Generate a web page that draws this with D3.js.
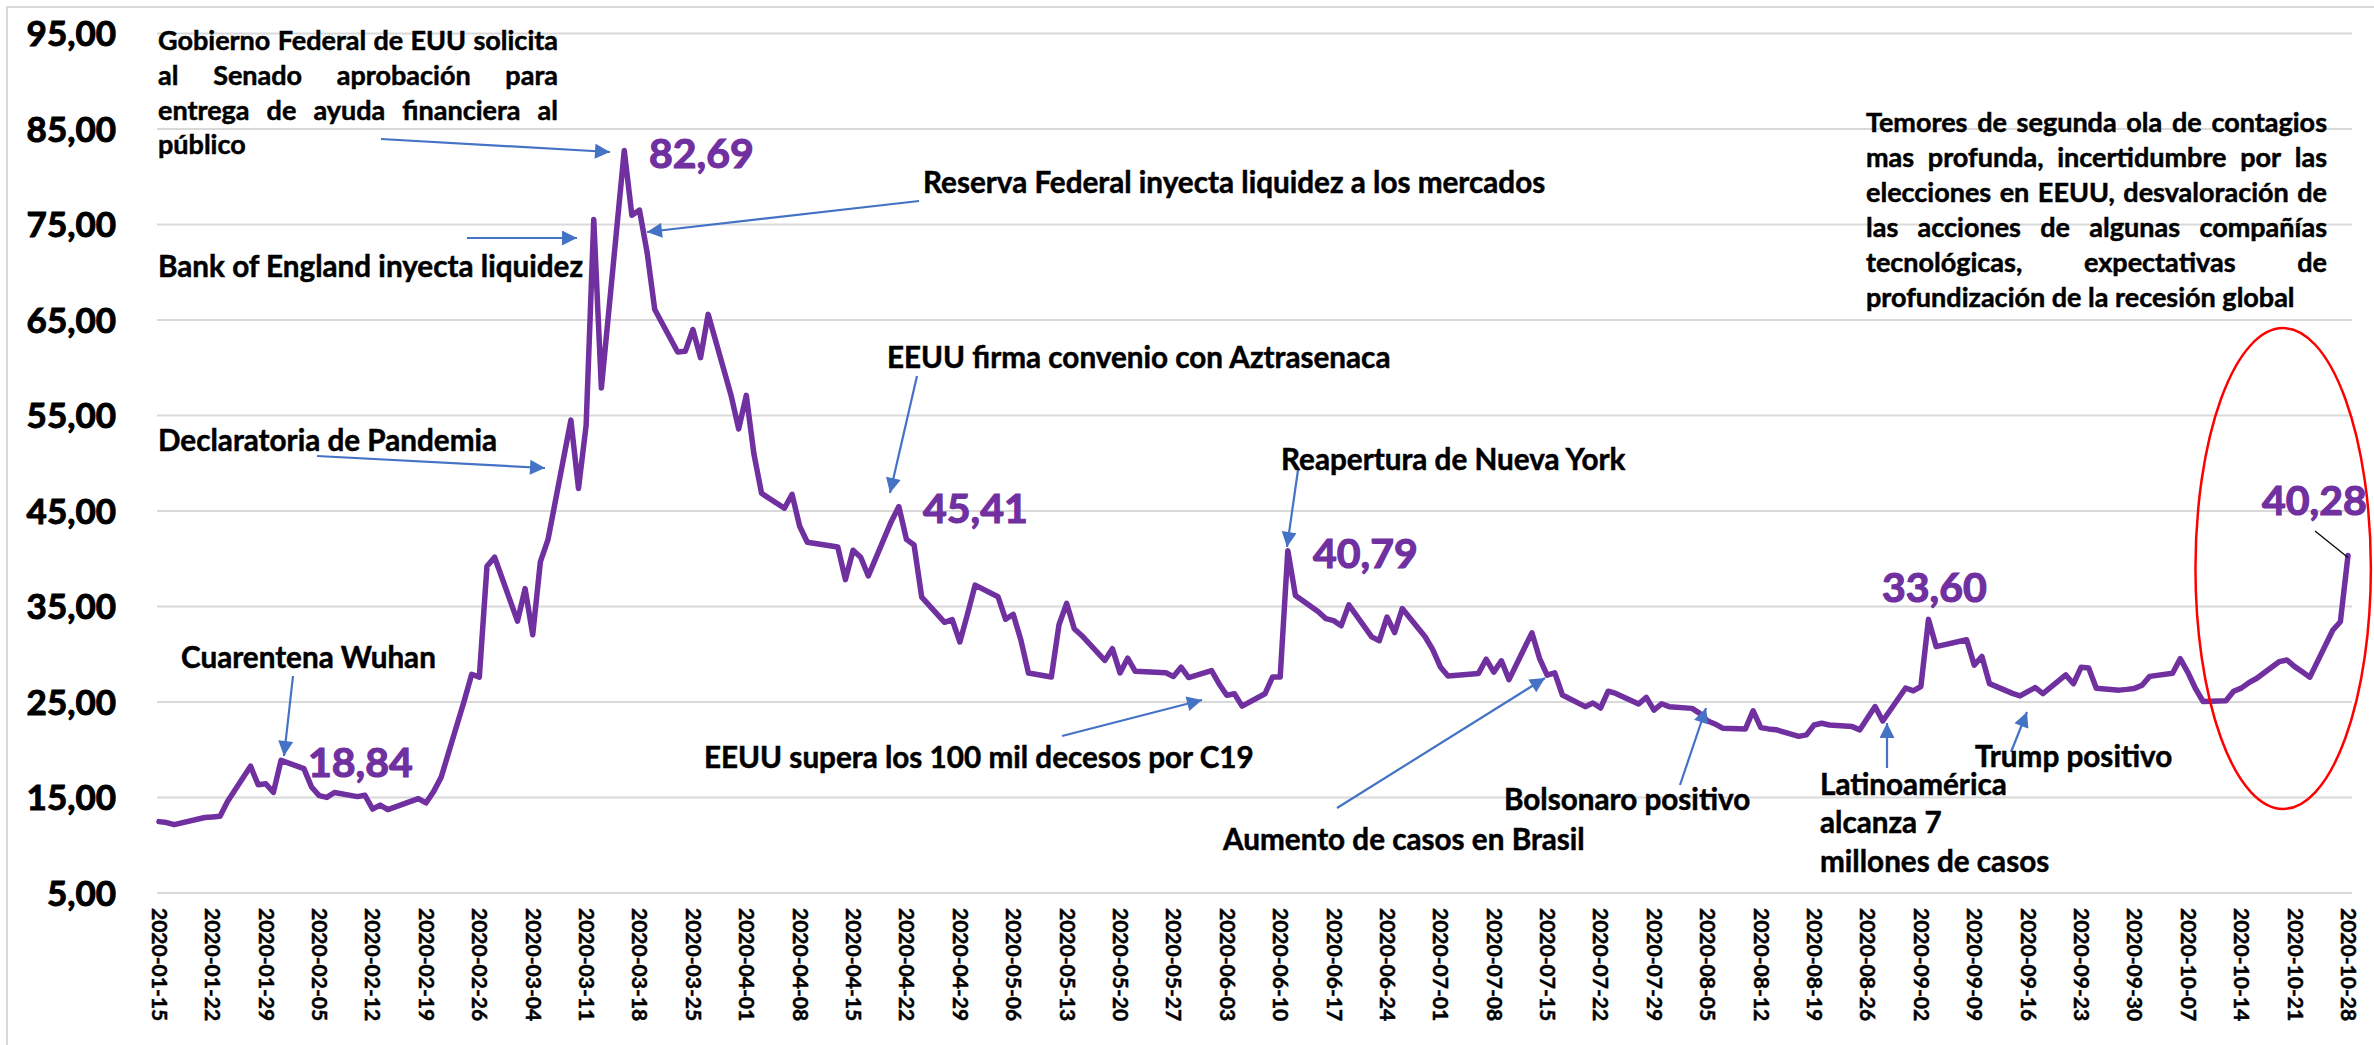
<!DOCTYPE html>
<html>
<head>
<meta charset="utf-8">
<script src="https://cdn.jsdelivr.net/npm/d3@7"></script>
<style>
  body { margin: 0; background: #fff; }
  svg { display: block; font-family: Lato, "Open Sans", sans-serif; font-weight: 700; }
</style>
</head>
<body>
<svg id="chart" width="2374" height="1045"></svg>
<script>
// Índice de volatilidad (cierres diarios) 2020-01-15 .. 2020-10-28
const dates = [
  "2020-01-15","2020-01-16","2020-01-17","2020-01-21","2020-01-22","2020-01-23","2020-01-24","2020-01-27","2020-01-28","2020-01-29","2020-01-30","2020-01-31",
  "2020-02-03","2020-02-04","2020-02-05","2020-02-06","2020-02-07","2020-02-10","2020-02-11","2020-02-12","2020-02-13","2020-02-14","2020-02-18","2020-02-19","2020-02-20","2020-02-21","2020-02-24","2020-02-25","2020-02-26","2020-02-27","2020-02-28",
  "2020-03-02","2020-03-03","2020-03-04","2020-03-05","2020-03-06","2020-03-09","2020-03-10","2020-03-11","2020-03-12","2020-03-13","2020-03-16","2020-03-17","2020-03-18","2020-03-19","2020-03-20","2020-03-23","2020-03-24","2020-03-25","2020-03-26","2020-03-27","2020-03-30","2020-03-31",
  "2020-04-01","2020-04-02","2020-04-03","2020-04-06","2020-04-07","2020-04-08","2020-04-09","2020-04-13","2020-04-14","2020-04-15","2020-04-16","2020-04-17","2020-04-20","2020-04-21","2020-04-22","2020-04-23","2020-04-24","2020-04-27","2020-04-28","2020-04-29","2020-04-30",
  "2020-05-01","2020-05-04","2020-05-05","2020-05-06","2020-05-07","2020-05-08","2020-05-11","2020-05-12","2020-05-13","2020-05-14","2020-05-15","2020-05-18","2020-05-19","2020-05-20","2020-05-21","2020-05-22","2020-05-26","2020-05-27","2020-05-28","2020-05-29",
  "2020-06-01","2020-06-02","2020-06-03","2020-06-04","2020-06-05","2020-06-08","2020-06-09","2020-06-10","2020-06-11","2020-06-12","2020-06-15","2020-06-16","2020-06-17","2020-06-18","2020-06-19","2020-06-22","2020-06-23","2020-06-24","2020-06-25","2020-06-26","2020-06-29","2020-06-30",
  "2020-07-01","2020-07-02","2020-07-06","2020-07-07","2020-07-08","2020-07-09","2020-07-10","2020-07-13","2020-07-14","2020-07-15","2020-07-16","2020-07-17","2020-07-20","2020-07-21","2020-07-22","2020-07-23","2020-07-24","2020-07-27","2020-07-28","2020-07-29","2020-07-30","2020-07-31",
  "2020-08-03","2020-08-04","2020-08-05","2020-08-06","2020-08-07","2020-08-10","2020-08-11","2020-08-12","2020-08-13","2020-08-14","2020-08-17","2020-08-18","2020-08-19","2020-08-20","2020-08-21","2020-08-24","2020-08-25","2020-08-26","2020-08-27","2020-08-28","2020-08-31",
  "2020-09-01","2020-09-02","2020-09-03","2020-09-04","2020-09-08","2020-09-09","2020-09-10","2020-09-11","2020-09-14","2020-09-15","2020-09-16","2020-09-17","2020-09-18","2020-09-21","2020-09-22","2020-09-23","2020-09-24","2020-09-25","2020-09-28","2020-09-29","2020-09-30",
  "2020-10-01","2020-10-02","2020-10-05","2020-10-06","2020-10-07","2020-10-08","2020-10-09","2020-10-12","2020-10-13","2020-10-14","2020-10-15","2020-10-16","2020-10-19","2020-10-20","2020-10-21","2020-10-22","2020-10-23","2020-10-26","2020-10-27","2020-10-28"
];
const values = [
  12.42,12.32,12.10,12.85,12.91,12.98,14.56,18.23,16.28,16.39,15.49,18.84,
  17.97,16.05,15.15,14.96,15.47,15.04,15.18,13.74,14.15,13.68,14.83,14.38,15.56,17.08,25.03,27.85,27.56,39.16,40.11,
  33.42,36.82,31.99,39.62,41.94,54.46,47.30,53.90,75.47,57.83,82.69,75.91,76.45,72.00,66.04,61.59,61.67,63.95,61.00,65.54,57.08,53.54,
  57.06,50.91,46.80,45.24,46.70,43.35,41.67,41.17,37.76,40.84,40.11,38.15,43.83,45.41,41.98,41.38,35.93,33.29,33.57,31.23,34.15,
  37.19,35.97,33.61,34.12,31.44,27.98,27.57,33.04,35.28,32.61,31.89,29.30,30.53,27.99,29.53,28.16,28.01,27.62,28.59,27.51,
  28.23,26.84,25.66,25.81,24.52,25.81,27.57,27.57,40.79,36.09,34.40,33.67,33.47,32.94,35.12,31.77,31.37,33.84,32.22,34.73,31.78,30.43,
  28.62,27.68,27.94,29.43,28.08,29.26,27.29,32.19,29.52,27.76,28.00,25.68,24.46,24.84,24.32,26.08,25.84,24.74,25.44,24.10,24.76,24.46,
  24.28,23.76,22.99,22.65,22.21,22.13,24.03,22.28,22.13,22.05,21.35,21.51,22.54,22.72,22.54,22.37,22.03,23.27,24.47,22.96,26.41,
  26.12,26.57,33.60,30.75,31.46,28.81,29.71,26.87,25.85,25.59,26.04,26.46,25.83,27.78,26.86,28.58,28.51,26.38,26.19,26.27,26.37,
  26.70,27.63,27.96,29.48,28.06,26.36,25.00,25.07,26.07,26.40,26.97,27.41,29.18,29.35,28.65,28.11,27.55,32.46,33.35,40.28
];
const yTicks = [5, 15, 25, 35, 45, 55, 65, 75, 85, 95];
const xTickLabels = [
  "2020-01-15","2020-01-22","2020-01-29","2020-02-05","2020-02-12","2020-02-19","2020-02-26","2020-03-04","2020-03-11","2020-03-18","2020-03-25",
  "2020-04-01","2020-04-08","2020-04-15","2020-04-22","2020-04-29","2020-05-06","2020-05-13","2020-05-20","2020-05-27","2020-06-03","2020-06-10",
  "2020-06-17","2020-06-24","2020-07-01","2020-07-08","2020-07-15","2020-07-22","2020-07-29","2020-08-05","2020-08-12","2020-08-19","2020-08-26",
  "2020-09-02","2020-09-09","2020-09-16","2020-09-23","2020-09-30","2020-10-07","2020-10-14","2020-10-21","2020-10-28"
];
// valores destacados
const peakDates = ["2020-01-31","2020-03-16","2020-04-21","2020-06-11","2020-09-03","2020-10-28"];

const parse = d3.timeParse("%Y-%m-%d");
const fmtNum = v => v.toFixed(2).replace(".", ",");
const data = dates.map((d, i) => ({ date: parse(d), value: values[i] }));

const purple = "#7030A0";
const blue = "#4472C4";
const grid = "#d9d9d9";

const svg = d3.select("#chart");

const x = d3.scaleTime()
  .domain([parse(dates[0]), parse(dates[dates.length - 1])])
  .range([159, 2348]);
const y = d3.scaleLinear().domain([5, 95]).range([892.5, 33]);

// marco del gráfico
svg.append("path")
  .attr("d", "M7,1045 V7 H2374")
  .attr("fill", "none").attr("stroke", grid).attr("stroke-width", 2);

// líneas de cuadrícula
svg.append("g")
  .attr("transform", "translate(157,0)")
  .call(d3.axisRight(y).tickValues(yTicks).tickSize(2195).tickFormat(""))
  .call(g => g.select(".domain").remove())
  .call(g => g.selectAll("line").attr("stroke", grid).attr("stroke-width", 2));

// eje Y
svg.append("g")
  .attr("transform", "translate(116,0)")
  .call(d3.axisLeft(y).tickValues(yTicks).tickSize(0).tickPadding(0).tickFormat(fmtNum))
  .call(g => g.select(".domain").remove())
  .call(g => g.selectAll("text")
    .attr("font-family", "Lato, sans-serif").attr("font-weight", 700)
    .attr("font-size", 35).attr("fill", "#000")
    .attr("stroke", "#000").attr("stroke-width", 1)
    .attr("dy", "0.36em"));

// eje X (fechas verticales)
svg.append("g")
  .attr("transform", "translate(0,908)")
  .call(d3.axisBottom(x).tickValues(xTickLabels.map(parse)).tickSize(0).tickFormat(d3.timeFormat("%Y-%m-%d")))
  .call(g => g.select(".domain").remove())
  .call(g => g.selectAll("text")
    .attr("font-family", "Lato, sans-serif").attr("font-weight", 700)
    .attr("font-size", 21).attr("fill", "#000")
    .attr("stroke", "#000").attr("stroke-width", 0.5)
    .attr("transform", "rotate(90)")
    .attr("x", 0).attr("y", 0).attr("dy", "0.36em")
    .attr("text-anchor", "start"));

// serie
svg.append("path")
  .datum(data)
  .attr("fill", "none")
  .attr("stroke", purple)
  .attr("stroke-width", 5.5)
  .attr("stroke-linejoin", "round")
  .attr("stroke-linecap", "round")
  .attr("d", d3.line().x(d => x(d.date)).y(d => y(d.value)));

// flechas
svg.append("defs").append("marker")
  .attr("id", "head")
  .attr("viewBox", "0 0 10 10")
  .attr("refX", 10).attr("refY", 5)
  .attr("markerUnits", "userSpaceOnUse")
  .attr("markerWidth", 16).attr("markerHeight", 15)
  .attr("orient", "auto")
  .append("path").attr("d", "M0,0 L10,5 L0,10 Z").attr("fill", blue);

const arrows = [
  [381, 139, 610, 152],
  [467, 238, 577, 238],
  [317, 456, 545, 468],
  [919, 201, 647, 232],
  [917, 376, 890, 493],
  [1298, 470, 1287, 547],
  [293, 676, 284, 756],
  [1062, 736, 1202, 700],
  [1337, 808, 1545, 678],
  [1680, 785, 1706, 708],
  [1887, 768, 1887, 723],
  [2011, 752, 2027, 712]
];
svg.append("g").selectAll("line")
  .data(arrows)
  .join("line")
  .attr("x1", d => d[0]).attr("y1", d => d[1])
  .attr("x2", d => d[2]).attr("y2", d => d[3])
  .attr("stroke", blue).attr("stroke-width", 2.2)
  .attr("marker-end", "url(#head)");

// párrafo justificado
function justified(lines, x0, y0, width, lh, size) {
  const g = svg.append("g").attr("font-size", size)
    .attr("stroke", "#000").attr("stroke-width", 0.5);
  const probe = g.append("text").attr("x", -9999).attr("y", -9999);
  const widest = d3.max(lines.slice(0, -1), l => probe.text(l).node().getComputedTextLength());
  const fs = widest > width ? size * width / widest : size;
  g.attr("font-size", fs);
  probe.remove();
  lines.forEach((line, i) => {
    const by = y0 + i * lh;
    const words = line.split(" ");
    if (i === lines.length - 1 || words.length < 2) {
      g.append("text").attr("x", x0).attr("y", by).text(line);
      return;
    }
    const nodes = words.map(wd => g.append("text").attr("y", by).text(wd));
    const ws = nodes.map(n => n.node().getComputedTextLength());
    const gap = (width - d3.sum(ws)) / (words.length - 1);
    let cx = x0;
    nodes.forEach((n, k) => { n.attr("x", cx); cx += ws[k] + gap; });
  });
}

justified([
  "Gobierno Federal de EUU solicita",
  "al Senado aprobación para",
  "entrega de ayuda financiera al",
  "público"
], 158, 50, 400, 34.8, 27);

justified([
  "Temores de segunda ola de contagios",
  "mas profunda, incertidumbre por las",
  "elecciones en EEUU, desvaloración de",
  "las acciones de algunas compañías",
  "tecnológicas, expectativas de",
  "profundización de la recesión global"
], 1866, 132, 461, 35, 27);

// etiquetas sueltas: un tamaño común tomado de los anchos del original
const labels = [
  ["Bank of England inyecta liquidez", 158, 277, 427],
  ["Declaratoria de Pandemia", 158, 451, 340],
  ["Reserva Federal inyecta liquidez a los mercados", 923, 193, 629],
  ["EEUU firma convenio con Aztrasenaca", 887, 368, 501],
  ["Reapertura de Nueva York", 1281, 470, null],
  ["Cuarentena Wuhan", 181, 668, 254],
  ["EEUU supera los 100 mil decesos por C19", 704, 768, 543],
  ["Aumento de casos en Brasil", 1223, 850, 362],
  ["Bolsonaro positivo", 1504, 810, 245],
  ["Latinoamérica", 1820, 795, null],
  ["alcanza 7", 1820, 833, null],
  ["millones de casos", 1820, 872, null],
  ["Trump positivo", 1975, 767, 200]
];
const lg = svg.append("g").attr("font-size", 27)
  .attr("stroke", "#000").attr("stroke-width", 0.5);
const nodes = labels.map(l => lg.append("text").attr("x", l[1]).attr("y", l[2]).text(l[0]));
const ratios = labels.map((l, i) => l[3] ? l[3] / nodes[i].node().getComputedTextLength() : null).filter(r => r);
lg.attr("font-size", 27 * d3.median(ratios));

// valores de los picos
const peakPos = [[308, 777], [649, 168], [923, 523], [1313, 568], [1882, 602], [2262, 515]];
const pg = svg.append("g")
  .attr("font-size", 41).attr("fill", purple)
  .attr("stroke", purple).attr("stroke-width", 1.2);
peakDates.forEach((pd, i) => {
  const v = values[dates.indexOf(pd)];
  pg.append("text").attr("x", peakPos[i][0]).attr("y", peakPos[i][1]).text(fmtNum(v));
});

// conector del último valor
svg.append("line")
  .attr("x1", 2315).attr("y1", 531)
  .attr("x2", x(parse("2020-10-28"))).attr("y2", y(40.28) + 2)
  .attr("stroke", "#000").attr("stroke-width", 1.2);

// óvalo rojo
const ovL = x(parse("2020-10-08")), ovR = x(parse("2020-10-31"));
const ovT = y(64.1), ovB = y(13.75);
svg.append("ellipse")
  .attr("cx", (ovL + ovR) / 2).attr("cy", (ovT + ovB) / 2)
  .attr("rx", (ovR - ovL) / 2).attr("ry", (ovB - ovT) / 2)
  .attr("fill", "none").attr("stroke", "#ff0000").attr("stroke-width", 2.5);
</script>
</body>
</html>
